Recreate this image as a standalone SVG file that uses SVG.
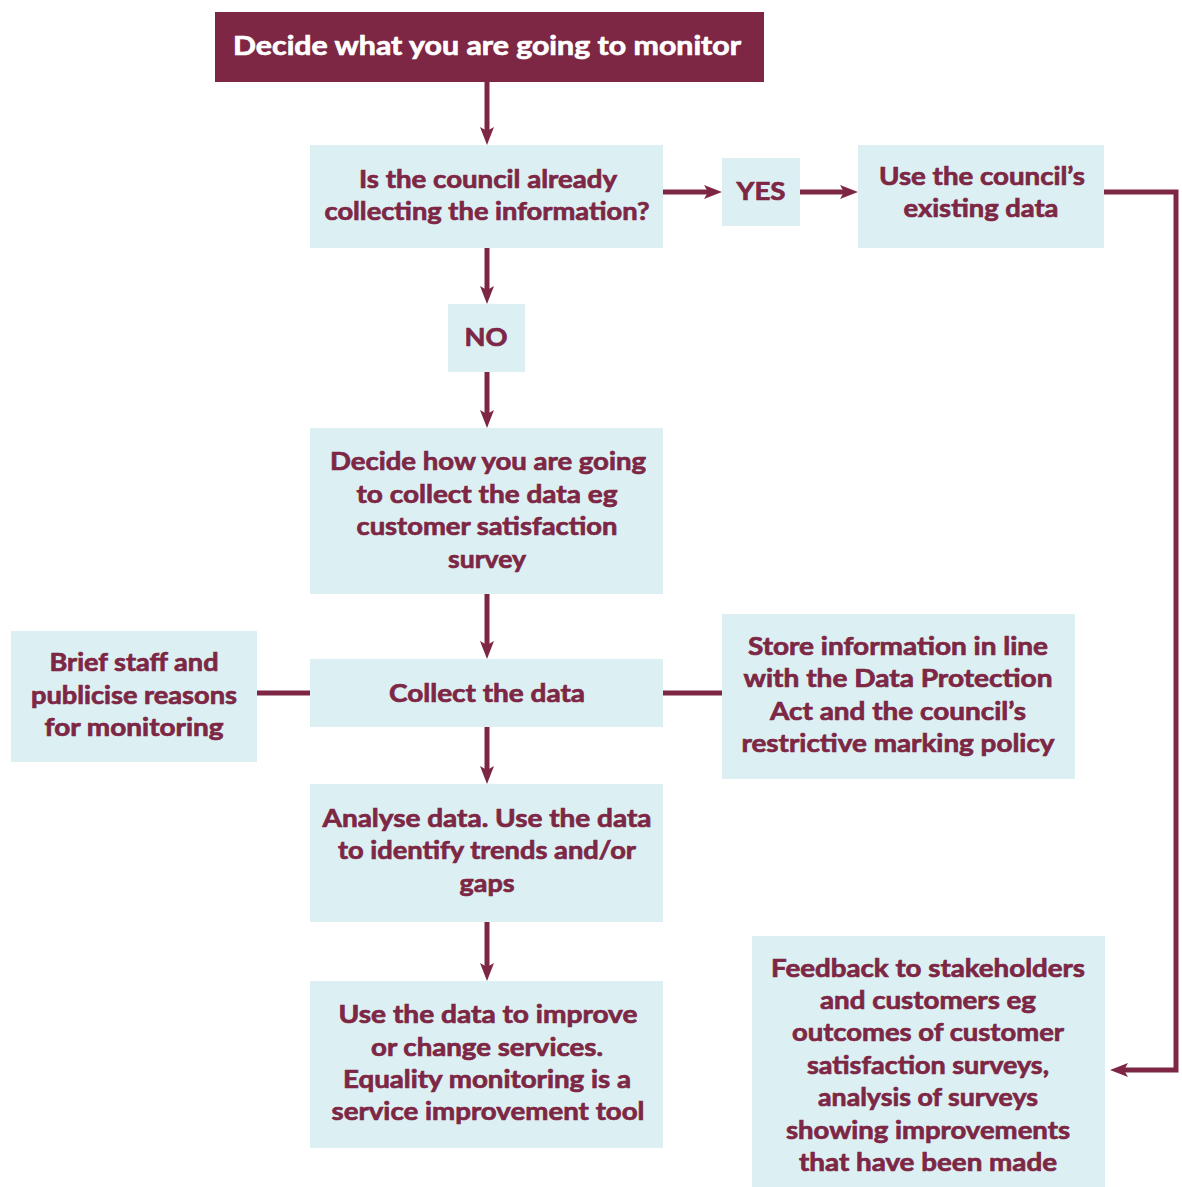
<svg xmlns="http://www.w3.org/2000/svg" width="1182" height="1187" viewBox="0 0 1182 1187">
<style>
.box{fill:#dcf0f3}
.dark{fill:#7d2745}
text{font-family:Lato,"Liberation Sans",sans-serif;font-weight:bold;font-size:25px;fill:#7d2745;stroke:#7d2745;stroke-width:0.7;text-anchor:middle}
.w{fill:#ffffff;stroke:#ffffff;font-size:27px}
.c{fill:none;stroke:#7d2745;stroke-width:5;stroke-linejoin:miter}
</style>
<defs>
<marker id="ah" viewBox="0 0 18 14" markerWidth="18" markerHeight="14" refX="7" refY="7" orient="auto" markerUnits="userSpaceOnUse">
<path d="M0,0 L18,7 L0,14 L4,7 Z" fill="#7d2745"/>
</marker>
</defs>
<rect width="1182" height="1187" fill="#ffffff"/>
<g id="connectors">
<line class="c" x1="487" y1="81" x2="487" y2="134" marker-end="url(#ah)"/>
<line class="c" x1="662" y1="192" x2="711" y2="192" marker-end="url(#ah)"/>
<line class="c" x1="800" y1="192" x2="847" y2="192" marker-end="url(#ah)"/>
<polyline class="c" points="1104,192 1176,192 1176,1070 1121,1070" marker-end="url(#ah)"/>
<line class="c" x1="487" y1="247" x2="487" y2="293" marker-end="url(#ah)"/>
<line class="c" x1="487" y1="371" x2="487" y2="417" marker-end="url(#ah)"/>
<line class="c" x1="487" y1="593" x2="487" y2="648" marker-end="url(#ah)"/>
<line class="c" x1="257" y1="693" x2="310" y2="693"/>
<line class="c" x1="662" y1="693" x2="722" y2="693"/>
<line class="c" x1="487" y1="726" x2="487" y2="773" marker-end="url(#ah)"/>
<line class="c" x1="487" y1="921" x2="487" y2="970" marker-end="url(#ah)"/>
</g>
<g id="n-start">
<rect class="dark" x="215" y="12" width="549" height="70"/>
<text class="w" x="487" y="55" textLength="508" lengthAdjust="spacingAndGlyphs">Decide what you are going to monitor</text>
</g>
<g id="n-collecting">
<rect class="box" x="310" y="145" width="353" height="103"/>
<text x="488" y="188" textLength="258" lengthAdjust="spacingAndGlyphs">Is the council already</text>
<text x="487" y="220" textLength="325" lengthAdjust="spacingAndGlyphs">collecting the information?</text>
</g>
<g id="n-yes">
<rect class="box" x="722" y="158" width="78" height="68"/>
<text x="761" y="200" textLength="49" lengthAdjust="spacingAndGlyphs">YES</text>
</g>
<g id="n-existing">
<rect class="box" x="858" y="145" width="246" height="103"/>
<text x="982" y="185" textLength="206" lengthAdjust="spacingAndGlyphs">Use the council’s</text>
<text x="981" y="217" textLength="155" lengthAdjust="spacingAndGlyphs">existing data</text>
</g>
<g id="n-no">
<rect class="box" x="448" y="304" width="77" height="68"/>
<text x="486" y="346" textLength="43" lengthAdjust="spacingAndGlyphs">NO</text>
</g>
<g id="n-decide-how">
<rect class="box" x="310" y="428" width="353" height="166"/>
<text x="488" y="470" textLength="316" lengthAdjust="spacingAndGlyphs">Decide how you are going</text>
<text x="487" y="503" textLength="261" lengthAdjust="spacingAndGlyphs">to collect the data eg</text>
<text x="487" y="535" textLength="261" lengthAdjust="spacingAndGlyphs">customer satisfaction</text>
<text x="487" y="568" textLength="78" lengthAdjust="spacingAndGlyphs">survey</text>
</g>
<g id="n-collect">
<rect class="box" x="310" y="659" width="353" height="68"/>
<text x="487" y="702" textLength="196" lengthAdjust="spacingAndGlyphs">Collect the data</text>
</g>
<g id="n-brief">
<rect class="box" x="11" y="631" width="246" height="131"/>
<text x="134" y="671" textLength="169" lengthAdjust="spacingAndGlyphs">Brief staff and</text>
<text x="134" y="704" textLength="206" lengthAdjust="spacingAndGlyphs">publicise reasons</text>
<text x="134" y="736" textLength="179" lengthAdjust="spacingAndGlyphs">for monitoring</text>
</g>
<g id="n-store">
<rect class="box" x="722" y="614" width="353" height="165"/>
<text x="898" y="655" textLength="300" lengthAdjust="spacingAndGlyphs">Store information in line</text>
<text x="898" y="687" textLength="309" lengthAdjust="spacingAndGlyphs">with the Data Protection</text>
<text x="898" y="720" textLength="256" lengthAdjust="spacingAndGlyphs">Act and the council’s</text>
<text x="898" y="752" textLength="313" lengthAdjust="spacingAndGlyphs">restrictive marking policy</text>
</g>
<g id="n-analyse">
<rect class="box" x="310" y="784" width="353" height="138"/>
<text x="487" y="827" textLength="329" lengthAdjust="spacingAndGlyphs">Analyse data. Use the data</text>
<text x="487" y="859" textLength="298" lengthAdjust="spacingAndGlyphs">to identify trends and/or</text>
<text x="487" y="892" textLength="55" lengthAdjust="spacingAndGlyphs">gaps</text>
</g>
<g id="n-improve">
<rect class="box" x="310" y="981" width="353" height="167"/>
<text x="488" y="1023" textLength="299" lengthAdjust="spacingAndGlyphs">Use the data to improve</text>
<text x="487" y="1056" textLength="232" lengthAdjust="spacingAndGlyphs">or change services.</text>
<text x="487" y="1088" textLength="288" lengthAdjust="spacingAndGlyphs">Equality monitoring is a</text>
<text x="488" y="1120" textLength="313" lengthAdjust="spacingAndGlyphs">service improvement tool</text>
</g>
<g id="n-feedback">
<rect class="box" x="752" y="936" width="353" height="251"/>
<text x="928" y="977" textLength="314" lengthAdjust="spacingAndGlyphs">Feedback to stakeholders</text>
<text x="928" y="1009" textLength="216" lengthAdjust="spacingAndGlyphs">and customers eg</text>
<text x="928" y="1041" textLength="272" lengthAdjust="spacingAndGlyphs">outcomes of customer</text>
<text x="928" y="1074" textLength="242" lengthAdjust="spacingAndGlyphs">satisfaction surveys,</text>
<text x="928" y="1106" textLength="220" lengthAdjust="spacingAndGlyphs">analysis of surveys</text>
<text x="928" y="1139" textLength="284" lengthAdjust="spacingAndGlyphs">showing improvements</text>
<text x="928" y="1171" textLength="258" lengthAdjust="spacingAndGlyphs">that have been made</text>
</g>
</svg>
